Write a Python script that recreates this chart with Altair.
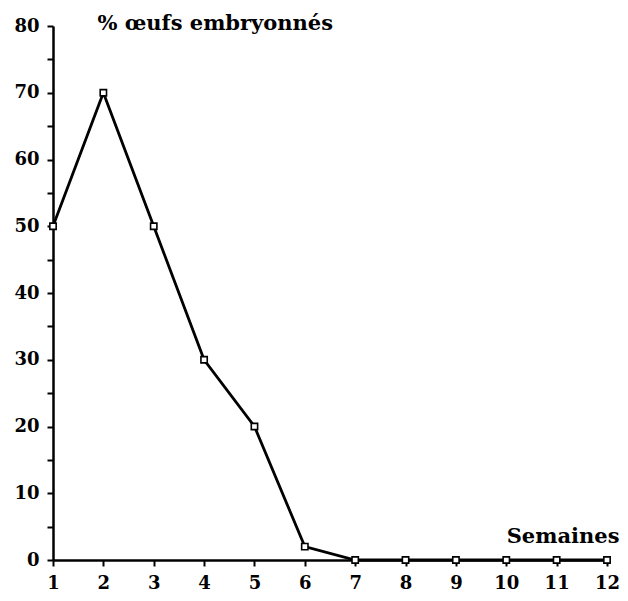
import altair as alt
import pandas as pd

weeks = [1, 2, 3, 4, 5, 6, 7, 8, 9, 10, 11, 12]
pct = [50, 70, 50, 30, 20, 2, 0, 0, 0, 0, 0, 0]

df = pd.DataFrame({"semaine": weeks, "pct": pct})
FONT = "DejaVu Serif"

x = alt.X("semaine:Q", scale=alt.Scale(domain=[1, 12], nice=False, zero=False),
          axis=alt.Axis(values=weeks, title="Semaines", titleX=566, titleY=-18,
                        titleAlign="right", titleBaseline="alphabetic",
                        titleFont=FONT, titleFontSize=21, titleFontWeight="bold",
                        titleColor="black",
                        labelFont=FONT, labelFontSize=18, labelFontWeight="bold",
                        labelColor="black", tickColor="black", domainColor="black",
                        domainWidth=2.5, tickWidth=2, tickSize=6, labelPadding=8,
                        grid=False, labelFlush=False))
y = alt.Y("pct:Q", scale=alt.Scale(domain=[0, 80], nice=False),
          axis=alt.Axis(values=list(range(0, 81, 5)),
                        labelExpr="datum.value % 10 == 0 ? datum.label : ''",
                        title="% œufs embryonnés", titleAngle=0, titleX=44, titleY=3,
                        titleAlign="left", titleBaseline="alphabetic",
                        titleFont=FONT, titleFontSize=21, titleFontWeight="bold",
                        titleColor="black",
                        labelFont=FONT, labelFontSize=18, labelFontWeight="bold",
                        labelColor="black", tickColor="black", domainColor="black",
                        domainWidth=2.5, tickWidth=2, tickSize=6, labelPadding=8,
                        grid=False, labelFlush=False))

line = alt.Chart(df).mark_line(color="black", strokeWidth=2.8).encode(x=x, y=y)
pts = alt.Chart(df).mark_point(shape="square", size=40, filled=True, fill="white",
                               stroke="black", strokeWidth=1.6, opacity=1).encode(x=x, y=y)

chart = (line + pts).properties(
    width=554, height=534,
    autosize=alt.AutoSizeParams(type="none"),
    padding={"left": 45, "top": 18, "right": 13, "bottom": 33},
).configure(
    background="white",
    style={"cell": {"stroke": "transparent", "strokeWidth": 0}},
).configure_view(strokeWidth=0, stroke="transparent")

chart.save("out.html", embed_options={"renderer": "svg", "actions": False})
